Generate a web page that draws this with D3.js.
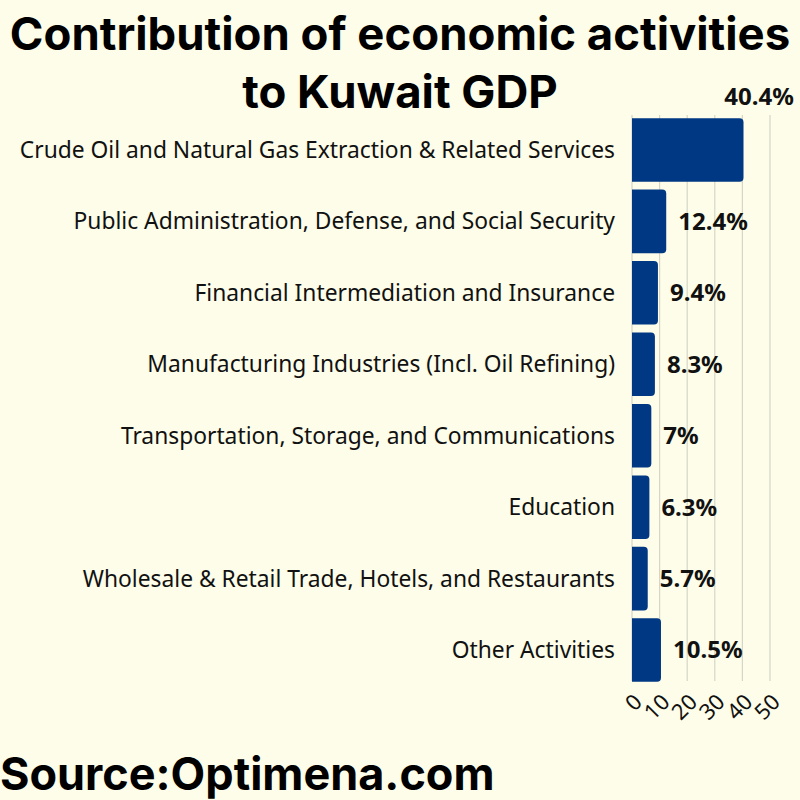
<!DOCTYPE html>
<html><head><meta charset="utf-8">
<script src="https://cdn.jsdelivr.net/npm/d3@7"></script>
<style>body{margin:0;background:#fdfde9}</style></head>
<body><svg id="c" width="800" height="800"></svg>
<script>
const categories = ["Crude Oil and Natural Gas Extraction & Related Services","Public Administration, Defense, and Social Security","Financial Intermediation and Insurance","Manufacturing Industries (Incl. Oil Refining)","Transportation, Storage, and Communications","Education","Wholesale & Retail Trade, Hotels, and Restaurants","Other Activities"];
const values = [40.4,12.4,9.4,8.3,7,6.3,5.7,10.5];
const valueLabels = ["40.4%","12.4%","9.4%","8.3%","7%","6.3%","5.7%","10.5%"];
const ticks = [0,10,20,30,40,50];

const svg = d3.select("#c");
svg.append("rect").attr("width",800).attr("height",800).attr("fill","#fdfde9");
const x = d3.scaleLinear().domain([0,50]).range([632,770]);
const y = d3.scaleBand().domain(categories).range([116,684]).paddingInner(0.11).paddingOuter(0.03);
svg.append("g").selectAll("line").data(ticks).join("line")
 .attr("x1",d=>x(d)).attr("x2",d=>x(d)).attr("y1",115).attr("y2",681)
 .attr("stroke","#d6d6c8").attr("stroke-width",1.2);
const r=4;
svg.append("g").selectAll("path").data(categories).join("path")
 .attr("fill","#003883")
 .attr("d",(c,i)=>{const x0=x(0),x1=x(values[i]),y0=y(c),h=y.bandwidth();
   return `M${x0},${y0}H${x1-r}Q${x1},${y0} ${x1},${y0+r}V${y0+h-r}Q${x1},${y0+h} ${x1-r},${y0+h}H${x0}Z`;});
svg.append("g").selectAll("text").data(categories).join("text")
 .attr("x",615).attr("y",c=>y(c)+y.bandwidth()/2).attr("dy","0.35em")
 .attr("text-anchor","end").attr("font-family","Noto Sans, sans-serif").attr("font-size",22.8).attr("fill","#111")
 .text(d=>d);
svg.append("g").selectAll("text").data(categories).join("text")
 .attr("x",(c,i)=>i===0?759:x(values[i])+12)
 .attr("y",(c,i)=>i===0?97:y(c)+y.bandwidth()/2)
 .attr("dy","0.35em").attr("text-anchor",(c,i)=>i===0?"middle":"start")
 .attr("font-family","Noto Sans, sans-serif").attr("font-weight","bold").attr("font-size",24).attr("fill","#111")
 .text((c,i)=>valueLabels[i]);
svg.append("g").selectAll("text").data(ticks).join("text")
 .attr("transform",d=>`translate(${x(d)+6},${698}) rotate(-45)`)
 .attr("text-anchor","end").attr("dy","0.35em")
 .attr("font-family","Noto Sans, sans-serif").attr("font-size",22).attr("fill","#111")
 .text(d=>d);
const tf="Inter, Noto Sans, sans-serif";
svg.append("text").attr("x",400).attr("y",50).attr("text-anchor","middle")
 .attr("font-family",tf).attr("font-weight","bold").attr("font-size",45.5).attr("fill","#000")
 .text("Contribution of economic activities");
svg.append("text").attr("x",400).attr("y",108).attr("text-anchor","middle")
 .attr("font-family",tf).attr("font-weight","bold").attr("font-size",45.5).attr("fill","#000")
 .text("to Kuwait GDP");
svg.append("text").attr("x",0).attr("y",790)
 .attr("font-family",tf).attr("font-weight","bold").attr("font-size",45).attr("fill","#000")
 .text("Source:Optimena.com");
</script></body></html>
